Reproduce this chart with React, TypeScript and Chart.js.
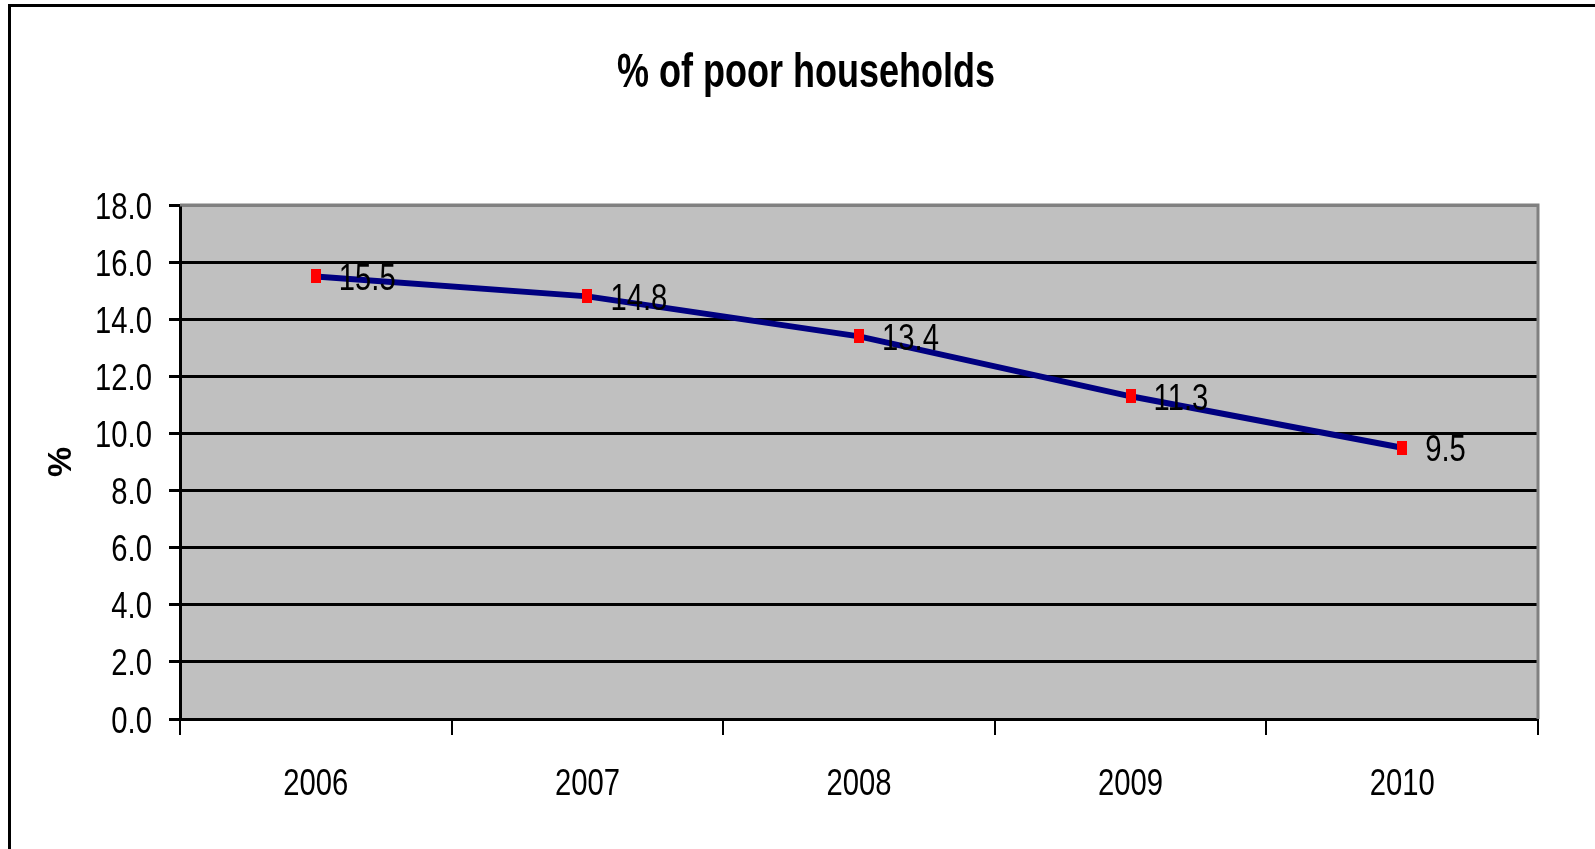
import React, { useEffect, useRef } from "react";
import { Chart, registerables } from "chart.js";

Chart.register(...registerables);

const chartTitle = "% of poor households";
const yAxisTitle = "%";
const years = ["2006", "2007", "2008", "2009", "2010"];
const poorShare = [15.5, 14.8, 13.4, 11.3, 9.5];
const yTicks = [0, 2, 4, 6, 8, 10, 12, 14, 16, 18];

const FONT = "'Liberation Sans', Arial, sans-serif";

// Narrow, tall lettering: draw with a horizontal squeeze.
function drawNarrow(
  ctx: CanvasRenderingContext2D,
  text: string,
  x: number,
  y: number,
  size: number,
  bold: boolean,
  sx: number,
  align: CanvasTextAlign,
  baseline: CanvasTextBaseline = "alphabetic",
  rotate = 0
) {
  ctx.save();
  ctx.translate(x, y);
  if (rotate) ctx.rotate(rotate);
  ctx.scale(sx, 1);
  ctx.font = `${bold ? "bold " : ""}${size}px ${FONT}`;
  ctx.fillStyle = "#000";
  ctx.textAlign = align;
  ctx.textBaseline = baseline;
  ctx.fillText(text, 0, 0);
  ctx.restore();
}

function makeMarker(): HTMLCanvasElement {
  const c = document.createElement("canvas");
  c.width = 10;
  c.height = 14;
  const g = c.getContext("2d")!;
  g.fillStyle = "#ff0000";
  g.fillRect(0, 0, 10, 14);
  return c;
}

const plotFrame = {
  id: "plotFrame",
  beforeDraw(chart: any) {
    const { ctx, chartArea: a } = chart;
    ctx.save();
    ctx.fillStyle = "#c0c0c0";
    ctx.fillRect(a.left, a.top, a.right - a.left, a.bottom - a.top);
    ctx.restore();
  },
  beforeDatasetsDraw(chart: any) {
    const { ctx, chartArea: a } = chart;
    ctx.save();
    ctx.strokeStyle = "#808080";
    ctx.lineWidth = 3;
    ctx.beginPath();
    ctx.moveTo(a.left, a.top);
    ctx.lineTo(a.right, a.top);
    ctx.lineTo(a.right, a.bottom);
    ctx.stroke();
    ctx.restore();
  },
};

const textLayer = {
  id: "textLayer",
  afterDraw(chart: any) {
    const { ctx, chartArea: a } = chart;
    const xs = chart.scales.x;
    const ys = chart.scales.y;
    const TICK = 37;
    const SX = 0.79;

    // title
    drawNarrow(ctx, chartTitle, 806, 87, 48, true, 0.75, "center");

    // y-axis title, rotated
    drawNarrow(ctx, yAxisTitle, 62, (a.top + a.bottom) / 2, 34, true, 1, "center", "middle", -Math.PI / 2);

    // y tick labels
    yTicks.forEach((v) => {
      const y = ys.getPixelForValue(v);
      drawNarrow(ctx, v.toFixed(1), 152, y + 13.5, TICK, false, SX, "right");
    });

    // x tick labels
    years.forEach((label, i) => {
      const x = xs.getPixelForTick(i);
      drawNarrow(ctx, label, x, 795, TICK, false, SX, "center");
    });

    // value labels beside each point
    const meta = chart.getDatasetMeta(0);
    const data = chart.data.datasets[0].data as number[];
    meta.data.forEach((pt: any, i: number) => {
      drawNarrow(ctx, data[i].toFixed(1), pt.x + 23, pt.y + 13.5, TICK, false, SX, "left");
    });
  },
};

export default function App() {
  const ref = useRef<HTMLCanvasElement>(null);

  useEffect(() => {
    const marker = makeMarker();
    const chart = new Chart(ref.current!, {
      type: "line",
      data: {
        labels: years,
        datasets: [
          {
            data: poorShare,
            borderColor: "#000080",
            borderWidth: 6,
            pointStyle: marker as any,
            pointRadius: 7,
            tension: 0,
          },
        ],
      },
      plugins: [plotFrame, textLayer],
      options: {
        responsive: false,
        animation: false,
        layout: { padding: { left: 0, right: 57, top: 205, bottom: 0 } },
        plugins: {
          legend: { display: false },
          tooltip: { enabled: false },
          title: { display: false },
        },
        scales: {
          x: {
            type: "category",
            offset: true,
            afterFit(scale: any) {
              scale.height = 130;
            },
            grid: {
              offset: true,
              drawOnChartArea: false,
              drawTicks: true,
              tickLength: 16,
              color: "#000",
              lineWidth: 2,
            },
            border: { color: "#000", width: 3 },
            ticks: { display: false },
          },
          y: {
            min: 0,
            max: 18,
            afterFit(scale: any) {
              scale.width = 180;
            },
            afterBuildTicks(scale: any) {
              scale.ticks = yTicks.map((v) => ({ value: v }));
            },
            grid: {
              color: (c: any) => (c.tick && c.tick.value === 18 ? "#808080" : "#000"),
              tickColor: "#000",
              lineWidth: 3,
              tickLength: 11,
            },
            border: { color: "#000", width: 3 },
            ticks: { display: false },
          },
        },
      },
    });
    return () => chart.destroy();
  }, []);

  return (
    <div style={{ position: "fixed", left: 0, top: 0, width: 1595, height: 849, background: "#fff", overflow: "hidden" }}>
      <canvas ref={ref} width={1595} height={849} style={{ display: "block" }} />
      <div
        style={{
          position: "absolute",
          left: 8,
          top: 4,
          width: 1700,
          height: 900,
          borderLeft: "3px solid #000",
          borderTop: "3px solid #000",
          pointerEvents: "none",
        }}
      />
    </div>
  );
}
